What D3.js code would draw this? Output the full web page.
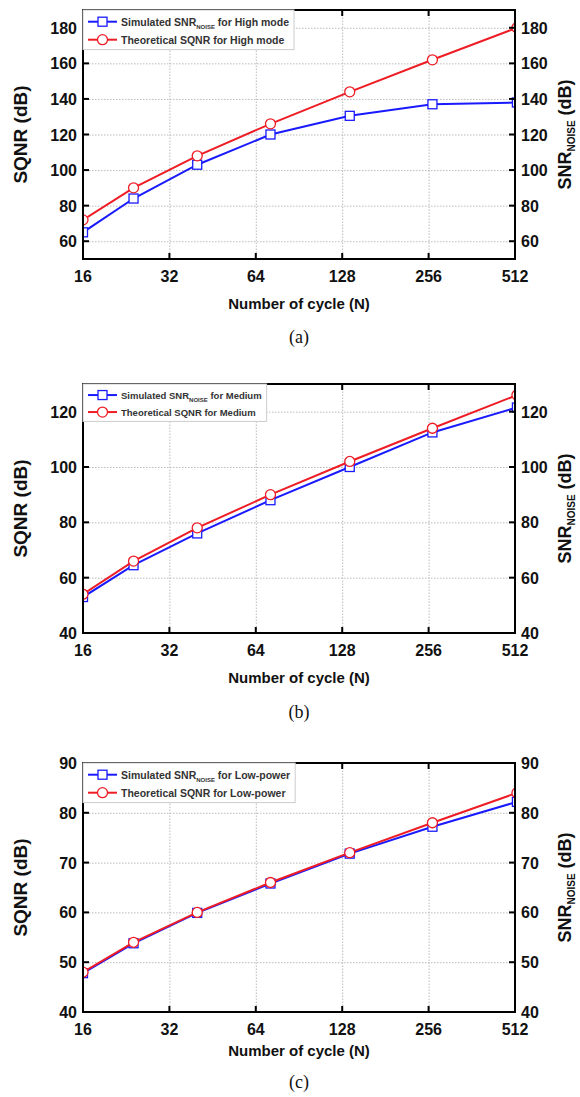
<!DOCTYPE html>
<html>
<head>
<meta charset="utf-8">
<script src="https://cdn.jsdelivr.net/npm/d3@7"></script>
<style>
  body { margin: 0; background: #fff; }
  svg { display: block; font-family: "Liberation Sans", Arial, sans-serif; }
  .tick-label { font-weight: bold; font-size: 16px; fill: #111; }
  .axis-title { font-weight: bold; fill: #111; }
  .caption { font-family: "Liberation Serif", "Times New Roman", serif; font-size: 18px; fill: #111; }
  .legend-text { font-weight: bold; font-size: 10.5px; fill: #333; }
</style>
</head>
<body>
<div id="chart"></div>
<script>
// data
var cycles = [16, 24, 40, 72, 136, 264, 520];
var xTicks = [16, 32, 64, 128, 256, 512];

var simHigh = [65, 84, 103, 120, 130.5, 137, 138];
var theoHigh = [72, 90, 108, 126, 144, 162, 180];
var yTicksHigh = [60, 80, 100, 120, 140, 160, 180];

var simMedium = [53, 64.5, 76, 88, 100, 112.5, 121.5];
var theoMedium = [54, 66, 78, 90, 102, 114, 126];
var yTicksMedium = [40, 60, 80, 100, 120];

var simLow = [47.8, 53.8, 59.9, 65.8, 71.8, 77.2, 82.2];
var theoLow = [48, 54, 60, 66, 72, 78, 84];
var yTicksLow = [40, 50, 60, 70, 80, 90];

var W = 580, H = 1097;
var left = 83, right = 515;

var svg = d3.select("#chart").append("svg")
  .attr("width", W)
  .attr("height", H);

var xScale = d3.scaleLog().base(2).domain([16, 512]).range([left, right]);

function makePanel(opt) {
  var top = opt.top, bottom = opt.top + 249;
  var yScale = d3.scaleLinear().domain(opt.yDomain).range([bottom, top]);
  var g = svg.append("g");

  var clipId = "clip" + opt.id;
  g.append("clipPath").attr("id", clipId)
    .append("rect")
    .attr("x", left).attr("y", top)
    .attr("width", right - left).attr("height", bottom - top);

  // grid lines
  g.append("g")
    .attr("transform", "translate(0," + bottom + ")")
    .call(d3.axisBottom(xScale).tickValues(xTicks).tickSize(-(bottom - top)).tickFormat(""))
    .call(function (s) {
      s.select(".domain").remove();
      s.selectAll("line").attr("stroke", "#bbb").attr("stroke-dasharray", "1.5,1.5");
    });
  g.append("g")
    .attr("transform", "translate(" + left + ",0)")
    .call(d3.axisLeft(yScale).tickValues(opt.yTicks).tickSize(-(right - left)).tickFormat(""))
    .call(function (s) {
      s.select(".domain").remove();
      s.selectAll("line").attr("stroke", "#bbb").attr("stroke-dasharray", "1.5,1.5");
    });

  // series
  var line = d3.line()
    .x(function (d, i) { return xScale(cycles[i]); })
    .y(function (d) { return yScale(d); });

  var plot = g.append("g").attr("clip-path", "url(#" + clipId + ")");

  plot.append("path").datum(opt.sim)
    .attr("fill", "none").attr("stroke", "#1a1aff").attr("stroke-width", 2)
    .attr("d", line);
  plot.selectAll("rect.sim").data(opt.sim).enter().append("rect")
    .attr("class", "sim")
    .attr("x", function (d, i) { return xScale(cycles[i]) - 4.5; })
    .attr("y", function (d) { return yScale(d) - 4.5; })
    .attr("width", 9).attr("height", 9)
    .attr("fill", "#fff").attr("stroke", "#1a1aff").attr("stroke-width", 1.3);

  plot.append("path").datum(opt.theo)
    .attr("fill", "none").attr("stroke", "#ee1c25").attr("stroke-width", 2)
    .attr("d", line);
  plot.selectAll("circle.theo").data(opt.theo).enter().append("circle")
    .attr("class", "theo")
    .attr("cx", function (d, i) { return xScale(cycles[i]); })
    .attr("cy", function (d) { return yScale(d); })
    .attr("r", 5)
    .attr("fill", "#fff").attr("stroke", "#ee1c25").attr("stroke-width", 1.3);

  // frame + inward ticks
  g.append("rect")
    .attr("x", left).attr("y", top)
    .attr("width", right - left).attr("height", bottom - top)
    .attr("fill", "none").attr("stroke", "#000").attr("stroke-width", 2);

  var tickLen = 6;
  g.selectAll("line.xt").data(xTicks).enter().append("line")
    .attr("x1", function (d) { return xScale(d); }).attr("x2", function (d) { return xScale(d); })
    .attr("y1", bottom).attr("y2", bottom - tickLen)
    .attr("stroke", "#000").attr("stroke-width", 2);
  g.selectAll("line.xt2").data(xTicks).enter().append("line")
    .attr("x1", function (d) { return xScale(d); }).attr("x2", function (d) { return xScale(d); })
    .attr("y1", top).attr("y2", top + tickLen)
    .attr("stroke", "#000").attr("stroke-width", 2);
  g.selectAll("line.yt").data(opt.yTicks).enter().append("line")
    .attr("x1", left).attr("x2", left + tickLen)
    .attr("y1", function (d) { return yScale(d); }).attr("y2", function (d) { return yScale(d); })
    .attr("stroke", "#000").attr("stroke-width", 2);
  g.selectAll("line.yt2").data(opt.yTicks).enter().append("line")
    .attr("x1", right).attr("x2", right - tickLen)
    .attr("y1", function (d) { return yScale(d); }).attr("y2", function (d) { return yScale(d); })
    .attr("stroke", "#000").attr("stroke-width", 2);

  // tick labels
  g.selectAll("text.xl").data(xTicks).enter().append("text")
    .attr("class", "tick-label")
    .attr("x", function (d) { return xScale(d); })
    .attr("y", bottom + 23)
    .attr("text-anchor", "middle")
    .text(function (d) { return d; });
  g.selectAll("text.yl").data(opt.yTicks).enter().append("text")
    .attr("class", "tick-label")
    .attr("x", left - 6)
    .attr("y", function (d) { return yScale(d) + 6; })
    .attr("text-anchor", "end")
    .text(function (d) { return d; });
  g.selectAll("text.yr").data(opt.yTicks).enter().append("text")
    .attr("class", "tick-label")
    .attr("x", right + 6)
    .attr("y", function (d) { return yScale(d) + 6; })
    .text(function (d) { return d; });

  // axis titles
  var midY = (top + bottom) / 2;
  g.append("text")
    .attr("class", "axis-title")
    .attr("transform", "translate(27," + midY + ") rotate(-90)")
    .attr("text-anchor", "middle")
    .style("font-size", "19px")
    .text("SQNR (dB)");

  var rt = g.append("text")
    .attr("class", "axis-title")
    .attr("transform", "translate(571," + midY + ") rotate(-90)")
    .attr("text-anchor", "middle")
    .style("font-size", "18px");
  rt.append("tspan").text("SNR");
  rt.append("tspan").attr("dy", 4).style("font-size", "10px").text("NOISE");
  rt.append("tspan").attr("dy", -4).text(" (dB)");

  g.append("text")
    .attr("class", "axis-title")
    .attr("x", (left + right) / 2)
    .attr("y", bottom + opt.titleOff)
    .attr("text-anchor", "middle")
    .style("font-size", "15px")
    .text("Number of cycle (N)");

  g.append("text")
    .attr("class", "caption")
    .attr("x", (left + right) / 2)
    .attr("y", bottom + opt.capOff)
    .attr("text-anchor", "middle")
    .text(opt.caption);

  // legend
  var lg = g.append("g");
  var box = lg.append("rect")
    .attr("x", left).attr("y", top)
    .attr("fill", "#fff").attr("stroke", "#ccc").attr("stroke-width", 1);
  var rowH = opt.rowH, r1 = top + opt.rowH * 0.65, r2 = r1 + rowH;
  var x0 = left + 5, x1 = left + 34, xm = (x0 + x1) / 2;

  lg.append("line").attr("x1", x0).attr("x2", x1).attr("y1", r1).attr("y2", r1)
    .attr("stroke", "#1a1aff").attr("stroke-width", 2);
  lg.append("rect").attr("x", xm - 4.5).attr("y", r1 - 4.5).attr("width", 9).attr("height", 9)
    .attr("fill", "#fff").attr("stroke", "#1a1aff").attr("stroke-width", 1.3);
  lg.append("line").attr("x1", x0).attr("x2", x1).attr("y1", r2).attr("y2", r2)
    .attr("stroke", "#ee1c25").attr("stroke-width", 2);
  lg.append("circle").attr("cx", xm).attr("cy", r2).attr("r", 5)
    .attr("fill", "#fff").attr("stroke", "#ee1c25").attr("stroke-width", 1.3);

  var t1 = lg.append("text").attr("class", "legend-text")
    .attr("x", x1 + 4).attr("y", r1 + 4)
    .style("font-size", opt.legendSize + "px");
  t1.append("tspan").text("Simulated SNR");
  t1.append("tspan").attr("dy", 3).style("font-size", "6px").text("NOISE");
  t1.append("tspan").attr("dy", -3).text(" for " + opt.mode);

  var t2 = lg.append("text").attr("class", "legend-text")
    .attr("x", x1 + 4).attr("y", r2 + 4)
    .style("font-size", opt.legendSize + "px")
    .text("Theoretical SQNR for " + opt.mode);

  var wText = Math.max(t1.node().getComputedTextLength(), t2.node().getComputedTextLength());
  box.attr("width", x1 + 4 + wText + 5 - left)
    .attr("height", r2 - top + rowH * 0.55);
}

makePanel({ id: "a", top: 10, yDomain: [50, 190], yTicks: yTicksHigh, sim: simHigh, theo: theoHigh,
  mode: "High mode", caption: "(a)", rowH: 18, legendSize: 10.5, titleOff: 50, capOff: 84 });
makePanel({ id: "b", top: 384, yDomain: [40, 130], yTicks: yTicksMedium, sim: simMedium, theo: theoMedium,
  mode: "Medium", caption: "(b)", rowH: 17, legendSize: 9.5, titleOff: 50, capOff: 85 });
makePanel({ id: "c", top: 763, yDomain: [40, 90], yTicks: yTicksLow, sim: simLow, theo: theoLow,
  mode: "Low-power", caption: "(c)", rowH: 18, legendSize: 10.5, titleOff: 44, capOff: 76 });
</script>
</body>
</html>
